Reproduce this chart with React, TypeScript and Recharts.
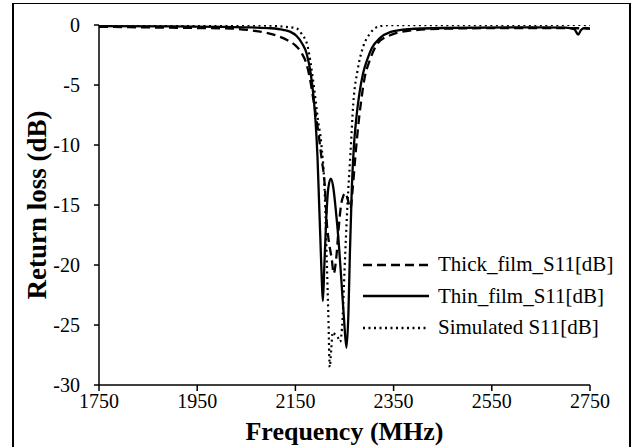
import React from 'react';
import { LineChart, Line, XAxis, YAxis, Legend } from 'recharts';

const FONT = 'Liberation Serif, Times New Roman, Tinos, DejaVu Serif, serif';

const seriesNames = ['Thick_film_S11[dB]', 'Thin_film_S11[dB]', 'Simulated S11[dB]'];
const xTicks = [1750, 1950, 2150, 2350, 2550, 2750];
const yTicks = [0, -5, -10, -15, -20, -25, -30];

const thickFreq = [1750, 1850, 1950, 2020, 2060, 2090, 2113, 2133, 2150, 2163, 2173, 2181, 2187, 2191, 2196, 2203, 2210, 2214, 2218, 2224, 2228, 2233, 2238, 2243, 2248, 2252, 2257, 2262, 2267, 2272, 2277, 2284, 2291, 2301, 2318, 2343, 2376, 2460, 2600, 2700, 2750];
const thickDb = [-0.15, -0.2, -0.25, -0.3, -0.45, -0.65, -0.9, -1.25, -1.7, -2.36, -3.3, -4.8, -6.3, -7.3, -8.7, -11, -13.5, -16.5, -18, -19.5, -20.7, -19.5, -17, -15, -14.2, -14, -14.6, -15.3, -13.5, -11, -8.8, -6.3, -4.4, -3, -1.5, -0.85, -0.5, -0.3, -0.25, -0.25, -0.3];

const thinFreq = [1750, 1900, 2000, 2060, 2100, 2125, 2139, 2152, 2163, 2173, 2181, 2187, 2191, 2195, 2198, 2201, 2204, 2206, 2209, 2213, 2217, 2222, 2227, 2232, 2238, 2244, 2249, 2254, 2258, 2261, 2265, 2269, 2274, 2280, 2288, 2297, 2306, 2322, 2343, 2380, 2450, 2600, 2700, 2718, 2726, 2732, 2740, 2750];
const thinDb = [-0.1, -0.12, -0.15, -0.2, -0.27, -0.4, -0.55, -0.9, -1.5, -2.4, -4, -6, -8, -11, -14.5, -18, -21.5, -23, -20, -16, -13.6, -12.8, -13.5, -15.3, -18, -21.5, -24.5, -26.9, -24, -19, -13.5, -10.2, -7.8, -5.8, -4, -2.8, -1.9, -1.1, -0.6, -0.35, -0.25, -0.2, -0.22, -0.35, -0.8, -0.4, -0.25, -0.3];

const simFreq = [1750, 2050, 2100, 2130, 2152, 2162, 2175, 2186, 2196, 2203, 2210, 2214, 2217, 2220, 2223, 2226, 2231, 2236, 2241, 2246, 2250, 2256, 2262, 2268, 2277, 2289, 2302, 2318, 2340, 2750];
const simDb = [0, -0.02, -0.06, -0.15, -0.28, -0.7, -1.8, -4.6, -7.9, -10, -14.3, -19.8, -24, -28.5, -27, -25.6, -25.8, -26, -26.4, -24.5, -20.5, -15, -10.8, -6.5, -3.7, -1.7, -0.7, -0.15, -0.02, 0];

const toRows = (f: number[], v: number[]) => f.map((x, i) => ({ f: x, v: v[i] }));
const thickData = toRows(thickFreq, thickDb);
const thinData = toRows(thinFreq, thinDb);
const simData = toRows(simFreq, simDb);

const dashes = ['9 5', undefined, '2 3.5'];

const LegendContent = () => (
  <div>
    {seriesNames.map((n, i) => (
      <div key={n} style={{ display: 'flex', alignItems: 'center', height: 31.5 }}>
        <svg width={66} height={6} style={{ display: 'block' }}>
          <line x1={0} y1={3} x2={66} y2={3} stroke="#000" strokeWidth={2.5} strokeDasharray={dashes[i]} />
        </svg>
        <span style={{ marginLeft: 9, fontSize: 21, fontFamily: FONT, lineHeight: '21px', color: '#000', whiteSpace: 'nowrap' }}>{n}</span>
      </div>
    ))}
  </div>
);

export default function App() {
  return (
    <div style={{ position: 'absolute', left: 0, top: 0, width: 637, height: 447, background: '#fff', fontFamily: FONT }}>
      <div style={{ position: 'absolute', left: 12, top: 3, width: 619, height: 450, borderLeft: '2px solid #000', borderRight: '2px solid #000', borderTop: '1.5px solid #000', boxSizing: 'border-box' }} />
      <LineChart width={637} height={447} margin={{ top: 25, right: 47, left: 0, bottom: 0 }} style={{ fontFamily: FONT }}>
        <XAxis
          dataKey="f"
          type="number"
          domain={[1750, 2750]}
          ticks={xTicks}
          allowDataOverflow
          height={62}
          tickSize={6}
          tickMargin={3}
          axisLine={{ stroke: '#000', strokeWidth: 1.5 }}
          tickLine={{ stroke: '#000', strokeWidth: 1.5 }}
          tick={{ fill: '#000', fontSize: 20, fontFamily: FONT }}
          label={{ value: 'Frequency (MHz)', position: 'insideBottom', offset: 7, style: { fill: '#000', fontSize: 26, fontWeight: 'bold', fontFamily: FONT } }}
        />
        <YAxis
          type="number"
          domain={[-30, 0]}
          ticks={yTicks}
          allowDataOverflow
          width={99}
          tickSize={5}
          tickMargin={14}
          axisLine={{ stroke: '#000', strokeWidth: 1.5 }}
          tickLine={{ stroke: '#000', strokeWidth: 1.5 }}
          tick={{ fill: '#000', fontSize: 20, fontFamily: FONT }}
          label={(props: any) => (
            <text
              x={37}
              y={205}
              transform="rotate(-90, 37, 205)"
              textAnchor="middle"
              dominantBaseline="central"
              fontFamily={FONT}
              style={{ fill: '#000', fontSize: 27, fontWeight: 'bold', fontFamily: FONT }}
            >
              Return loss (dB)
            </text>
          )}
        />
        <Legend
          layout="vertical"
          align="center"
          verticalAlign="middle"
          wrapperStyle={{ position: 'absolute', left: 363, top: 249, width: 270 }}
          content={() => <LegendContent />}
        />
        <Line data={thickData} dataKey="v" name={seriesNames[0]} type="monotone" stroke="#000" strokeWidth={2.3} strokeDasharray="9 5" dot={false} isAnimationActive={false} />
        <Line data={thinData} dataKey="v" name={seriesNames[1]} type="monotone" stroke="#000" strokeWidth={2.3} dot={false} isAnimationActive={false} />
        <Line data={simData} dataKey="v" name={seriesNames[2]} type="monotone" stroke="#000" strokeWidth={2.2} strokeDasharray="2 3.5" dot={false} isAnimationActive={false} />
      </LineChart>
    </div>
  );
}
